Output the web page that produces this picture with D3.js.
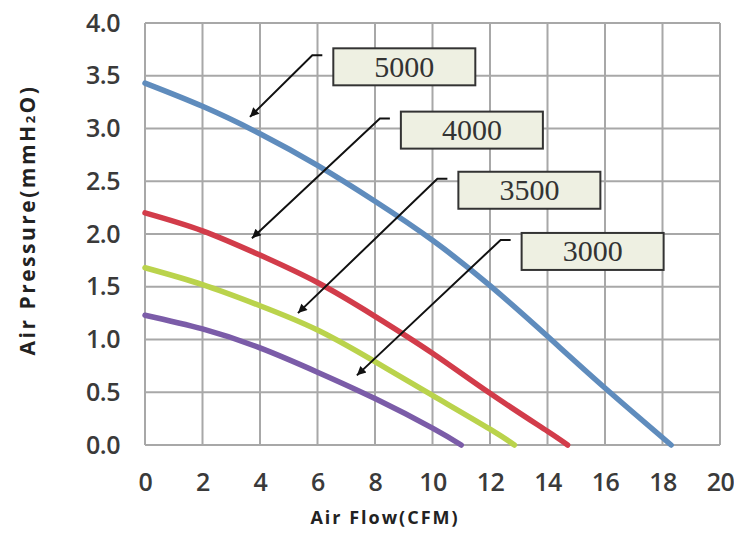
<!DOCTYPE html>
<html>
<head>
  <meta charset="UTF-8">
  <script type="text/javascript" src="https://cdn.jsdelivr.net/npm/d3@7/dist/d3.min.js" charset="UTF-8"></script>
  <title>Air Flow vs Air Pressure</title>
  <style>
    body { margin: 0; background: #fff; }
    svg { display: block; }
  </style>
</head>
<body>

<svg xmlns="http://www.w3.org/2000/svg" width="734" height="535"></svg>

<script type="text/javascript">

  // curve data: [air flow (CFM), pressure (mmH2O)]
  var speeds = [ "5000", "4000", "3500", "3000" ];
  var colors = [ "#5f8cbd", "#d23c4a", "#bad34c", "#7b5ca8" ];
  var rpm5000 = [ [0, 3.43], [2, 3.21], [4, 2.95], [6, 2.65], [8, 2.31], [10, 1.94], [12, 1.51], [14, 1.03], [16, 0.54], [18.3, 0] ];
  var rpm4000 = [ [0, 2.2], [2, 2.03], [4, 1.8], [6, 1.54], [8, 1.22], [10, 0.87], [12, 0.49], [14, 0.13], [14.7, 0] ];
  var rpm3500 = [ [0, 1.68], [2, 1.52], [4, 1.32], [6, 1.09], [8, 0.79], [10, 0.47], [12, 0.15], [12.85, 0] ];
  var rpm3000 = [ [0, 1.23], [2, 1.1], [4, 0.92], [6, 0.69], [8, 0.44], [10, 0.16], [11, 0] ];
  var series = [ rpm5000, rpm4000, rpm3500, rpm3000 ];

  // label boxes: top-left corner and arrow tip, in data units
  var labelBoxes = [ [6.55, 3.76], [8.9, 3.16], [10.9, 2.59], [13.1, 2.01] ];
  var arrowTips = [ [3.65, 3.11], [3.72, 1.96], [5.32, 1.25], [7.37, 0.66] ];

  var xTicks = d3.range( 0, 21, 2 );
  var yTicks = d3.range( 0, 4.01, 0.5 );

  var margin = { left: 145, right: 14, top: 23, bottom: 90 };
  var width = 734, height = 535;

  var svg = d3.select( "svg" );

  var x = d3.scaleLinear().domain( [0, 20] ).range( [margin.left, width - margin.right] );
  var y = d3.scaleLinear().domain( [0, 4] ).range( [height - margin.bottom, margin.top] );

  var gridColor = "#a8a8a8";

  // grid
  svg.append( "g" )
      .selectAll( "line" ).data( xTicks ).enter()
      .append( "line" )
      .attr( "x1", function ( d ) { return x( d ); } )
      .attr( "x2", function ( d ) { return x( d ); } )
      .attr( "y1", y( 0 ) )
      .attr( "y2", y( 4 ) )
      .attr( "stroke", gridColor )
      .attr( "stroke-width", 2 );

  svg.append( "g" )
      .selectAll( "line" ).data( yTicks ).enter()
      .append( "line" )
      .attr( "x1", x( 0 ) )
      .attr( "x2", x( 20 ) )
      .attr( "y1", function ( d ) { return y( d ); } )
      .attr( "y2", function ( d ) { return y( d ); } )
      .attr( "stroke", gridColor )
      .attr( "stroke-width", 2 );

  // tick labels via axes, with the domain and tick lines removed
  var tickFont = "'Open Sans', sans-serif";

  var xAxis = svg.append( "g" )
      .attr( "transform", "translate(0," + (y( 0 ) + 20) + ")" )
      .call( d3.axisBottom( x ).tickValues( xTicks ).tickSize( 0 ).tickFormat( d3.format( "d" ) ) );

  var yAxis = svg.append( "g" )
      .attr( "transform", "translate(" + (x( 0 ) - 22) + ",0)" )
      .call( d3.axisLeft( y ).tickValues( yTicks ).tickSize( 0 ).tickFormat( d3.format( ".1f" ) ) );

  [xAxis, yAxis].forEach( function ( axis )
  {
    axis.select( ".domain" ).remove();
    axis.selectAll( "text" )
        .attr( "fill", "#3a3a3a" )
        .style( "font-family", tickFont )
        .style( "font-weight", "600" )
        .style( "font-size", "25px" )
        .style( "letter-spacing", "-0.5px" );
  } );
  xAxis.selectAll( "text" ).attr( "dy", "0.9em" );

  // curves
  var line = d3.line()
      .x( function ( d ) { return x( d[0] ); } )
      .y( function ( d ) { return y( d[1] ); } )
      .curve( d3.curveNatural );

  svg.append( "g" )
      .selectAll( "path" ).data( series ).enter()
      .append( "path" )
      .attr( "fill", "none" )
      .attr( "stroke", function ( d, i ) { return colors[i]; } )
      .attr( "stroke-width", 5.5 )
      .attr( "stroke-linecap", "round" )
      .attr( "d", line );

  // arrows from the speed labels
  svg.append( "defs" ).append( "marker" )
      .attr( "id", "head" )
      .attr( "viewBox", "0 0 10 10" )
      .attr( "refX", 10 )
      .attr( "refY", 5 )
      .attr( "markerWidth", 18 )
      .attr( "markerHeight", 9 )
      .attr( "markerUnits", "userSpaceOnUse" )
      .attr( "orient", "auto" )
      .append( "path" )
      .attr( "d", "M0,0 L10,5 L0,10 z" )
      .attr( "fill", "#111" );

  var boxW = 142, boxH = 37, gap = 11, stub = 10;

  svg.append( "g" )
      .selectAll( "path" ).data( labelBoxes ).enter()
      .append( "path" )
      .attr( "fill", "none" )
      .attr( "stroke", "#111" )
      .attr( "stroke-width", 2 )
      .attr( "marker-end", "url(#head)" )
      .attr( "d", function ( d, i )
      {
        var sx = x( d[0] ) - gap, sy = y( d[1] ) + 7;
        return [
          "M", sx, sy,
          "L", sx - stub, sy,
          "L", x( arrowTips[i][0] ), y( arrowTips[i][1] )
        ].join( " " );
      } );

  var boxes = svg.append( "g" )
      .selectAll( "g" ).data( labelBoxes ).enter()
      .append( "g" )
      .attr( "transform", function ( d ) { return "translate(" + x( d[0] ) + "," + y( d[1] ) + ")"; } );

  boxes.append( "rect" )
      .attr( "width", boxW )
      .attr( "height", boxH )
      .attr( "fill", "#eef0e2" )
      .attr( "stroke", "#333" )
      .attr( "stroke-width", 2 );

  boxes.append( "text" )
      .attr( "x", boxW / 2 )
      .attr( "y", boxH / 2 + 10 )
      .attr( "text-anchor", "middle" )
      .attr( "fill", "#333" )
      .style( "font-family", "'Liberation Serif', 'DejaVu Serif', serif" )
      .style( "font-size", "30px" )
      .text( function ( d, i ) { return speeds[i]; } );

  // axis titles
  svg.append( "text" )
      .attr( "x", 385 )
      .attr( "y", 524 )
      .attr( "text-anchor", "middle" )
      .attr( "fill", "#222" )
      .style( "font-family", tickFont )
      .style( "font-weight", "700" )
      .style( "font-size", "18px" )
      .style( "letter-spacing", "2px" )
      .text( "Air Flow(CFM)" );

  var yTitle = svg.append( "text" )
      .attr( "transform", "translate(35,220) rotate(-90)" )
      .attr( "text-anchor", "middle" )
      .attr( "fill", "#222" )
      .style( "font-family", tickFont )
      .style( "font-weight", "700" )
      .style( "font-size", "21px" )
      .style( "letter-spacing", "2.5px" );
  yTitle.append( "tspan" ).text( "Air Pressure(mmH" );
  yTitle.append( "tspan" ).attr( "font-size", "13px" ).text( "2" );
  yTitle.append( "tspan" ).text( "O)" );

</script>

</body>
</html>
